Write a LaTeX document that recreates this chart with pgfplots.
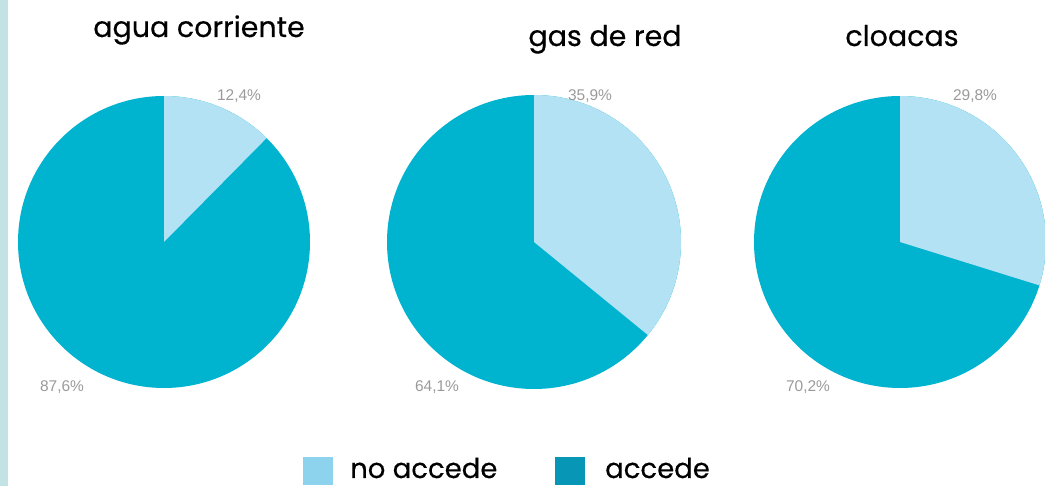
\documentclass[border=0pt]{standalone}
\usepackage{pgfplots}
\pgfplotsset{compat=1.18}
\usepackage{pgfplotstable}
\usepackage{fontspec}
\setmainfont{Poppins}
\newfontfamily\titlefont{Poppins}[FakeBold=0.4]
\newfontfamily\labfont{Liberation Sans}
\definecolor{light}{HTML}{B3E2F4}
\definecolor{dark}{HTML}{00B3CF}
\definecolor{lightleg}{HTML}{8DD3EE}
\definecolor{darkleg}{HTML}{0796B6}
\definecolor{strip}{HTML}{C2E2E4}
\definecolor{lab}{HTML}{9A9A9A}
% no accede (%) per service
\pgfplotstableread{
service cx cy r noaccede accede
agua 164 242 146 12.4 87.6
gas 534 242 147 35.9 64.1
cloacas 900 242 146 29.8 70.2
}\pies
\newcommand{\pie}[4]{%
  \fill[dark] (axis cs:#1,#2) circle[radius=#3pt];
  \fill[light] (axis cs:#1,#2) -- ++(0,#3pt) arc[start angle=90, end angle={90-3.6*#4}, radius=#3pt] -- cycle;
}
\begin{document}
\begin{tikzpicture}
\begin{axis}[
  width=1045pt, height=486pt, scale only axis,
  xmin=0, xmax=1045, ymin=0, ymax=486, y dir=reverse,
  hide axis, clip=true,
]
\addplot[draw=none, fill=strip] coordinates {(0,0) (8,0) (8,486) (0,486)} -- cycle;
\pie{164}{242}{146}{12.4}
\pie{534}{242}{147}{35.9}
\pie{900}{242}{146}{29.8}
% titles
\begin{scope}[every node/.style={font=\titlefont\fontsize{28.5}{32}\selectfont, anchor=base, inner sep=0pt}]
\node at (axis cs:199,37) {agua corriente};
\node at (axis cs:605,46) {gas de red};
\node at (axis cs:902,46) {cloacas};
\end{scope}
% percentages
\begin{scope}[every node/.style={font=\labfont\fontsize{15.5}{16}\selectfont, text=lab}]
\node at (axis cs:239,96) {12,4\%};
\node at (axis cs:62,387) {87,6\%};
\node at (axis cs:590,96) {35,9\%};
\node at (axis cs:437,387) {64,1\%};
\node at (axis cs:975,96) {29,8\%};
\node at (axis cs:808,387) {70,2\%};
\end{scope}
% legend
\fill[lightleg] (axis cs:303,457) rectangle (axis cs:333,485);
\fill[darkleg] (axis cs:555,457) rectangle (axis cs:585,485);
\begin{scope}[every node/.style={font=\titlefont\fontsize{27.5}{30}\selectfont, anchor=base west, inner sep=0pt}]
\node at (axis cs:350,478) {no accede};
\node at (axis cs:605,478) {accede};
\end{scope}
\end{axis}
\end{tikzpicture}
\end{document}
